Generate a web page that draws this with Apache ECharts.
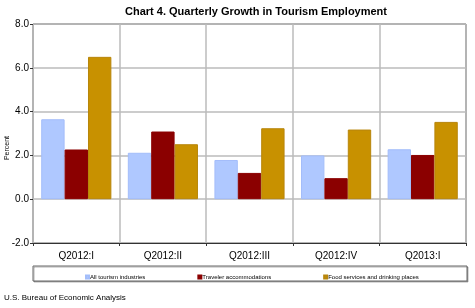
<!DOCTYPE html>
<html>
<head>
<meta charset="utf-8">
<script src="https://cdn.jsdelivr.net/npm/echarts@6/dist/echarts.min.js"></script>
<style>
  html, body { margin: 0; padding: 0; background: #fff; }
  #chart { width: 475px; height: 308px; }
</style>
</head>
<body>
<div id="chart"></div>
<script>
var quarters = ['Q2012:I', 'Q2012:II', 'Q2012:III', 'Q2012:IV', 'Q2013:I'];
var allTourism = [3.65, 2.12, 1.79, 2.0, 2.28];
var travelerAccom = [2.27, 3.09, 1.2, 0.96, 2.02];
var foodServices = [6.5, 2.51, 3.24, 3.18, 3.53];
var seriesNames = ['All tourism industries', 'Traveler accommodations', 'Food services and drinking places'];

var font = 'Arial, "Liberation Sans", sans-serif';
var myChart = echarts.init(document.getElementById('chart'));

var option = {
    animation: false,
    textStyle: { fontFamily: font },
    title: {
        text: 'Chart 4. Quarterly Growth in Tourism Employment',
        left: 251,
        textAlign: 'center',
        top: 1,
        textStyle: { fontSize: 11, fontWeight: 'bold', color: '#000', fontFamily: font }
    },
    legend: {
        data: seriesNames,
        left: 80,
        top: 269,
        itemWidth: 3,
        itemHeight: 3,
        itemGap: 52,
        icon: 'rect',
        textStyle: { fontSize: 6, color: '#000', fontFamily: font, padding: [0, 0, 0, -4] }
    },
    graphic: [
        {
            type: 'rect',
            shape: { x: 33, y: 266, width: 434, height: 15 },
            style: { fill: '#fff', stroke: '#666', lineWidth: 1, shadowColor: 'rgba(0,0,0,0.3)', shadowOffsetX: 1, shadowOffsetY: 1, shadowBlur: 0 },
            z: -1
        },
        {
            type: 'text',
            left: 4,
            top: 294,
            style: { text: 'U.S. Bureau of Economic Analysis', fontSize: 8, fill: '#000', fontFamily: font }
        },
        {
            type: 'text',
            x: 4,
            y: 148,
            rotation: Math.PI / 2,
            style: { text: 'Percent', fontSize: 7, fill: '#000', fontFamily: font, align: 'center', verticalAlign: 'top' }
        }
    ],
    grid: {
        left: 33,
        right: 9,
        top: 24,
        bottom: 65,
        show: true,
        borderColor: '#444',
        borderWidth: 1,
        outerBoundsMode: 'none'
    },
    xAxis: [
        {
            type: 'category',
            data: quarters,
            position: 'bottom',
            axisLine: { show: false },
            axisTick: { show: false },
            axisLabel: { fontSize: 10, color: '#000', margin: 8 },
            splitLine: { show: true, interval: 0, lineStyle: { color: '#bbb', width: 1.5 } }
        },
        {
            type: 'category',
            data: quarters,
            position: 'bottom',
            axisLine: { onZero: true, lineStyle: { color: '#333', width: 1 } },
            axisTick: { show: true, inside: false, length: 3, lineStyle: { color: '#333' } },
            axisLabel: { show: false },
            splitLine: { show: false }
        }
    ],
    yAxis: {
        type: 'value',
        min: -2,
        max: 8,
        interval: 2,
        axisLine: { show: false },
        axisTick: { show: true, length: 3, lineStyle: { color: '#333' } },
        axisLabel: {
            fontSize: 10,
            color: '#000',
            margin: 4,
            formatter: function (v) { return v.toFixed(1); }
        },
        splitLine: { lineStyle: { color: '#bbb', width: 1.5 } }
    },
    series: [
        {
            name: seriesNames[0],
            type: 'bar',
            data: allTourism,
            barGap: '0%',
            barCategoryGap: '19%',
            itemStyle: { color: '#afc8ff', borderColor: '#a3bdfa', borderWidth: 1 }
        },
        {
            name: seriesNames[1],
            type: 'bar',
            data: travelerAccom,
            itemStyle: { color: '#8b0000', borderColor: '#8b0000', borderWidth: 1 }
        },
        {
            name: seriesNames[2],
            type: 'bar',
            data: foodServices,
            itemStyle: { color: '#c89100', borderColor: '#b8860b', borderWidth: 1 }
        }
    ]
};

myChart.setOption(option);
</script>
</body>
</html>
